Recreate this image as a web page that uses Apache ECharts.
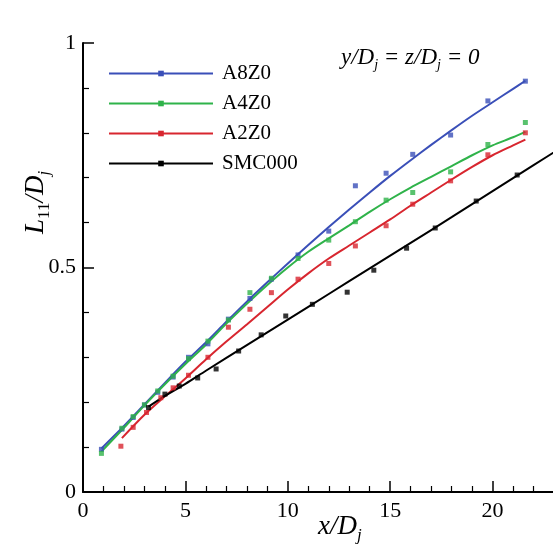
<!DOCTYPE html>
<html lang="en">
<head>
    <meta charset="UTF-8">
    <title>L11/Dj</title>
    <script src="https://cdn.jsdelivr.net/npm/echarts@6/dist/echarts.min.js"></script>
    <style>
        html, body { margin: 0; padding: 0; background: #fff; }
        #main { width: 553px; height: 546px; }
    </style>
</head>
<body>
<div id="main"></div>
<script>
// measured points
var ptX    = [0.9, 1.9, 2.45, 3.0, 3.65, 4.4, 5.15, 6.1, 7.1, 8.15, 9.2, 10.5, 12.0, 13.3, 14.8, 16.1, 17.95, 19.77, 21.6];
var a8Pts  = [0.095, 0.14, 0.166, 0.194, 0.222, 0.256, 0.3, 0.33, 0.385, 0.431, 0.474, 0.528, 0.581, 0.682, 0.71, 0.752, 0.795, 0.871, 0.915];
var a4Pts  = [0.086, 0.142, 0.168, 0.194, 0.225, 0.258, 0.297, 0.336, 0.383, 0.444, 0.476, 0.52, 0.561, 0.602, 0.65, 0.667, 0.713, 0.774, 0.823];
var a2X    = [1.85, 2.45, 3.1, 3.8, 4.4, 5.15, 6.1, 7.1, 8.15, 9.2, 10.5, 12.0, 13.3, 14.8, 16.1, 17.95, 19.77, 21.6];
var a2Pts  = [0.102, 0.144, 0.177, 0.21, 0.232, 0.26, 0.3, 0.367, 0.407, 0.444, 0.474, 0.509, 0.548, 0.593, 0.641, 0.693, 0.751, 0.80];
var smcX   = [3.2, 4.0, 4.7, 5.6, 6.5, 7.6, 8.7, 9.9, 11.2, 12.9, 14.2, 15.8, 17.2, 19.2, 21.2];
var smcPts = [0.188, 0.218, 0.236, 0.254, 0.274, 0.314, 0.35, 0.392, 0.418, 0.445, 0.494, 0.543, 0.588, 0.648, 0.706];

// fitted curves
var fitX   = [0.9, 2, 3, 4, 5, 6, 7, 8, 9, 10, 11, 12, 13, 14, 15, 16, 17, 18, 19, 20, 21, 21.6];
var a8Fit  = [0.097, 0.147, 0.195, 0.243, 0.29, 0.333, 0.379, 0.424, 0.467, 0.509, 0.55, 0.59, 0.629, 0.667, 0.704, 0.739, 0.773, 0.806, 0.838, 0.868, 0.898, 0.916];
var a4Fit  = [0.09, 0.143, 0.193, 0.24, 0.285, 0.328, 0.375, 0.419, 0.461, 0.5, 0.535, 0.565, 0.594, 0.624, 0.652, 0.678, 0.702, 0.726, 0.75, 0.772, 0.79, 0.802];
var a2FitX = [1.9, 3, 4, 5, 6, 7, 8, 9, 10, 11, 12, 13, 14, 15, 16, 17, 18, 19, 20, 21, 21.6];
var a2Fit  = [0.12, 0.172, 0.213, 0.253, 0.295, 0.335, 0.373, 0.412, 0.451, 0.487, 0.52, 0.549, 0.578, 0.607, 0.638, 0.667, 0.696, 0.724, 0.75, 0.772, 0.785];
var smcFitX = [3.2, 4, 5, 6, 8, 10, 12, 14, 16, 18, 20, 22, 23.5];
var smcFit  = [0.19, 0.214, 0.241, 0.27, 0.327, 0.384, 0.441, 0.498, 0.555, 0.612, 0.67, 0.728, 0.771];

var names  = ['A8Z0', 'A4Z0', 'A2Z0', 'SMC000'];
var colors = ['#3a4fb8', '#2fb34a', '#d8262f', '#000000'];

var serif = 'Liberation Serif';

function zip(xs, ys) {
    return xs.map(function (x, i) { return [x, ys[i]]; });
}

// text with subscripts, pieces = [text, isSub, upright]
function mathLabel(pieces, size) {
    var ctx = document.createElement('canvas').getContext('2d');
    var x = 0, kids = [];
    pieces.forEach(function (p) {
        var fs = p[1] ? Math.round(size * 0.62) : size;
        var font = (p[2] ? '' : 'italic ') + fs + 'px "' + serif + '"';
        ctx.font = font;
        kids.push({
            type: 'text', x: x, y: p[1] ? size * 0.32 : 0,
            style: { text: p[0], font: font, fill: '#000', verticalAlign: 'middle', align: 'left' }
        });
        x += ctx.measureText(p[0]).width;
    });
    return kids;
}

var myChart = echarts.init(document.getElementById('main'));

var fits = [zip(fitX, a8Fit), zip(fitX, a4Fit), zip(a2FitX, a2Fit), zip(smcFitX, smcFit)];
var pts  = [zip(ptX, a8Pts), zip(ptX, a4Pts), zip(a2X, a2Pts), zip(smcX, smcPts)];

var series = [];
names.forEach(function (n, i) {
    series.push({
        name: n,
        type: 'line',
        data: fits[i],
        smooth: 0.3,
        symbol: 'rect',
        symbolSize: 5,
        showSymbol: false,
        color: colors[i],
        lineStyle: { color: colors[i], width: 2 },
        itemStyle: { color: colors[i] },
        z: 2
    });
});
names.forEach(function (n, i) {
    series.push({
        name: n + ' pts',
        type: 'scatter',
        data: pts[i],
        symbol: 'rect',
        symbolSize: 5,
        itemStyle: { color: colors[i] },
        z: 3
    });
});

var option = {
    animation: false,
    backgroundColor: '#fff',
    grid: { left: 83, right: -42, top: 43, bottom: 54, outerBoundsMode: 'none', containLabel: false },
    legend: {
        data: names,
        orient: 'vertical',
        left: 108,
        top: 63,
        padding: 0,
        itemWidth: 104,
        itemHeight: 7,
        itemGap: 9,
        textStyle: { fontFamily: serif, fontSize: 21, color: '#000', padding: [0, 0, 0, 4] }
    },
    xAxis: {
        type: 'value',
        min: 0,
        max: 25,
        interval: 5,
        axisLine: { lineStyle: { color: '#000', width: 2 } },
        axisTick: { inside: true, length: 11, lineStyle: { color: '#000', width: 1.5 } },
        minorTick: { show: true, splitNumber: 5, length: 6, lineStyle: { color: '#000', width: 1.2 } },
        axisLabel: { color: '#000', fontFamily: serif, fontSize: 22, margin: 8 },
        splitLine: { show: false }
    },
    yAxis: {
        type: 'value',
        min: 0,
        max: 1,
        interval: 0.5,
        axisLine: { show: true, lineStyle: { color: '#000', width: 2 } },
        axisTick: { show: true, inside: true, length: 11, lineStyle: { color: '#000', width: 1.5 } },
        minorTick: { show: true, splitNumber: 5, length: 6, lineStyle: { color: '#000', width: 1.2 } },
        axisLabel: { color: '#000', fontFamily: serif, fontSize: 22, margin: 7 },
        splitLine: { show: false }
    },
    graphic: [
        {   // y axis title
            type: 'group', x: 36, y: 234, rotation: Math.PI / 2,
            children: mathLabel([['L'], ['11', true, true], ['/D'], ['j', true]], 27)
        },
        {   // x axis title
            type: 'group', x: 318, y: 527,
            children: mathLabel([['x/D'], ['j', true]], 27)
        },
        {   // annotation
            type: 'group', x: 341, y: 58,
            children: mathLabel([['y/D'], ['j', true], [' = z/D'], ['j', true], [' = 0']], 23)
        }
    ],
    series: series
};

myChart.setOption(option);
</script>
</body>
</html>
